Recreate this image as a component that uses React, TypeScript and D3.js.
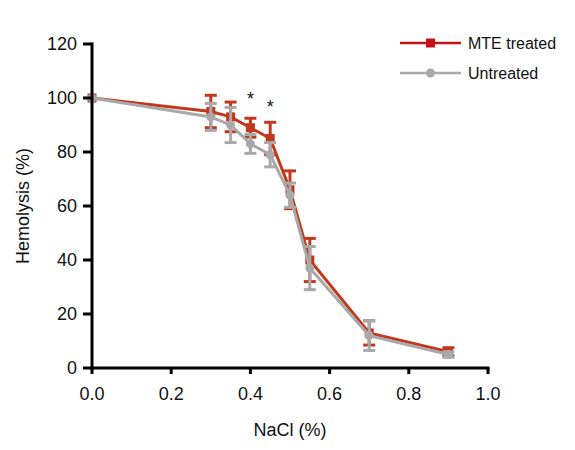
import React from "react";
import * as d3 from "d3";

const nacl = [0, 0.3, 0.35, 0.4, 0.45, 0.5, 0.55, 0.7, 0.9];
const mteMean = [100, 95, 93, 89, 85, 66, 40, 13, 6];
const mteErr = [0, 6, 5.5, 3.5, 6, 7, 8, 4.5, 1.5];
const untreatedMean = [100, 93, 90, 83, 79, 64, 37, 12, 5];
const untreatedErr = [0, 5, 6.5, 3.5, 4.5, 4.5, 8, 5.5, 1];
const xTicks = [0, 0.2, 0.4, 0.6, 0.8, 1.0];
const yTicks = [0, 20, 40, 60, 80, 100, 120];
const sigX = [0.4, 0.45];
const sigY = [101, 98];
const seriesNames = ["MTE treated", "Untreated"];

const RED = "#c2381c";
const RED_LEGEND = "#c8101a";
const GRAY = "#a9a9a9";
const FONT = "Liberation Sans, Arial, sans-serif";

export default function App() {
  const W = 575, H = 450;
  const x = d3.scaleLinear().domain([0, 1]).range([92, 488]);
  const y = d3.scaleLinear().domain([0, 120]).range([368, 44]);
  const line = d3
    .line<[number, number]>()
    .x((d) => x(d[0]))
    .y((d) => y(d[1]));

  const series = [
    { mean: mteMean, err: mteErr, color: RED, marker: "square" },
    { mean: untreatedMean, err: untreatedErr, color: GRAY, marker: "circle" },
  ];

  return (
    <svg
      width={W}
      height={H}
      style={{ position: "absolute", left: 0, top: 0, background: "#fff" }}
      fontFamily={FONT}
    >
      <rect width={W} height={H} fill="#fff" />
      {series.map((s, si) => (
        <g key={si}>
          {nacl.map((xv, i) =>
            s.err[i] > 0 ? (
              <g key={i} stroke={s.color} strokeWidth={3}>
                <line x1={x(xv)} x2={x(xv)} y1={y(s.mean[i] - s.err[i])} y2={y(s.mean[i] + s.err[i])} />
                <line x1={x(xv) - 6} x2={x(xv) + 6} y1={y(s.mean[i] + s.err[i])} y2={y(s.mean[i] + s.err[i])} />
                <line x1={x(xv) - 6} x2={x(xv) + 6} y1={y(s.mean[i] - s.err[i])} y2={y(s.mean[i] - s.err[i])} />
              </g>
            ) : null
          )}
          <path
            d={line(nacl.map((v, i) => [v, s.mean[i]] as [number, number])) || ""}
            fill="none"
            stroke={s.color}
            strokeWidth={3}
          />
          {nacl.map((xv, i) =>
            s.marker === "square" ? (
              <rect key={i} x={x(xv) - 4.5} y={y(s.mean[i]) - 4.5} width={9} height={9} fill={s.color} />
            ) : (
              <circle key={i} cx={x(xv)} cy={y(s.mean[i])} r={4.5} fill={s.color} />
            )
          )}
        </g>
      ))}

      {/* axes */}
      <g stroke="#000" strokeWidth={3}>
        <line x1={92} x2={92} y1={y(120) - 1.5} y2={369.5} />
        <line x1={90.5} x2={x(1) + 1.5} y1={368} y2={368} />
        {yTicks.map((t) => (
          <line key={t} x1={83} x2={92} y1={y(t)} y2={y(t)} />
        ))}
        {xTicks.map((t) => (
          <line key={t} x1={x(t)} x2={x(t)} y1={368} y2={374} />
        ))}
      </g>
      {yTicks.map((t) => (
        <text key={t} x={77} y={y(t)} dy="0.36em" textAnchor="end" fontSize={18} fill="#111">
          {t}
        </text>
      ))}
      {xTicks.map((t) => (
        <text key={t} x={x(t)} y={400} textAnchor="middle" fontSize={18} fill="#111">
          {d3.format(".1f")(t)}
        </text>
      ))}
      <text x={x(0.5)} y={436} textAnchor="middle" fontSize={18} fill="#111">
        NaCl (%)
      </text>
      <text
        transform={`translate(29,${(y(0) + y(120)) / 2}) rotate(-90)`}
        textAnchor="middle"
        fontSize={18}
        fill="#111"
      >
        Hemolysis (%)
      </text>

      {sigX.map((sx, i) => (
        <text key={i} x={x(sx)} y={y(sigY[i]) + 10} textAnchor="middle" fontSize={18} fill="#111">
          *
        </text>
      ))}

      {/* legend */}
      <g>
        <line x1={400} x2={461} y1={43} y2={43} stroke={RED_LEGEND} strokeWidth={2.5} />
        <rect x={426} y={38.5} width={9} height={9} fill={RED_LEGEND} />
        <text x={468} y={43} dy="0.36em" fontSize={16} fill="#111">
          {seriesNames[0]}
        </text>
        <line x1={400} x2={461} y1={73} y2={73} stroke={GRAY} strokeWidth={2.5} />
        <circle cx={430.5} cy={73} r={4.5} fill={GRAY} />
        <text x={468} y={73} dy="0.36em" fontSize={16} fill="#111">
          {seriesNames[1]}
        </text>
      </g>
    </svg>
  );
}
